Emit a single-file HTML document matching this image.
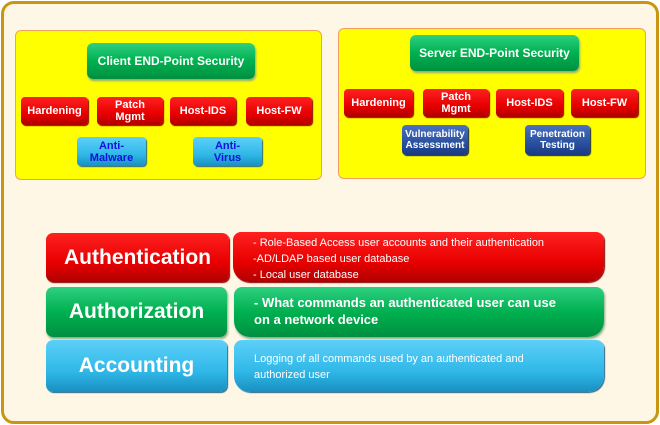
<!DOCTYPE html>
<html><head><meta charset="utf-8"><style>
*{margin:0;padding:0;box-sizing:border-box}
body{width:660px;height:425px;background:#fff;position:relative;overflow:hidden;font-family:"Liberation Sans",sans-serif}
.outer{position:absolute;left:1px;top:1px;width:658px;height:423px;border:3px solid #c8960f;border-radius:13px;background:#fef7e6}
.panel{position:absolute;background:#ffff00;border:1px solid #f0a060;border-radius:6px}
.b{position:absolute;display:flex;align-items:center;justify-content:center;text-align:center;font-weight:bold;border-radius:4px;line-height:12px;font-size:11px}
.red{background:linear-gradient(#ff2020,#e80000 60%,#b00000);color:#fff;box-shadow:1px 1px 1px #800}
.grn{background:linear-gradient(#2ed080,#00b050 50%,#009040);color:#fff;border-radius:6px;box-shadow:1px 2px 2px #8a8}
.blu{background:linear-gradient(#5cd0f8,#30b8e8 60%,#1890c0);color:#1010e0;box-shadow:1px 1px 1px #268}
.dk{background:linear-gradient(#4a70c0,#2a50a0 60%,#1a3a80);color:#fff;font-size:10px;line-height:11px;box-shadow:1px 1px 1px #124}
.big{position:absolute;display:flex;align-items:center;justify-content:center;color:#fff;font-weight:bold;font-size:21px;border-radius:7px}
.txt{position:absolute;color:#fff;border-radius:8px 8px 16px 16px;padding-left:20px;font-size:11px}
</style></head><body>
<div class="outer"></div>
<div class="panel" style="left:15px;top:30px;width:307px;height:150px"></div>
<div class="panel" style="left:338px;top:28px;width:308px;height:151px"></div>

<div class="b grn" style="left:87px;top:43px;width:168px;height:36px;font-size:12px">Client END-Point Security</div>
<div class="b red" style="left:21px;top:97px;width:67px;height:28px">Hardening</div>
<div class="b red" style="left:97px;top:97px;width:66px;height:28px">Patch<br>Mgmt</div>
<div class="b red" style="left:170px;top:97px;width:66px;height:28px">Host-IDS</div>
<div class="b red" style="left:246px;top:97px;width:66px;height:28px">Host-FW</div>
<div class="b blu" style="left:77px;top:137px;width:69px;height:29px">Anti-<br>Malware</div>
<div class="b blu" style="left:193px;top:137px;width:69px;height:29px">Anti-<br>Virus</div>

<div class="b grn" style="left:410px;top:35px;width:169px;height:36px;font-size:12px">Server END-Point Security</div>
<div class="b red" style="left:344px;top:89px;width:69px;height:28px">Hardening</div>
<div class="b red" style="left:423px;top:89px;width:66px;height:28px">Patch<br>Mgmt</div>
<div class="b red" style="left:496px;top:89px;width:67px;height:28px">Host-IDS</div>
<div class="b red" style="left:571px;top:89px;width:67px;height:28px">Host-FW</div>
<div class="b dk" style="left:402px;top:125px;width:66px;height:30px">Vulnerability<br>Assessment</div>
<div class="b dk" style="left:525px;top:125px;width:65px;height:30px">Penetration<br>Testing</div>

<div class="big red" style="left:46px;top:233px;width:183px;height:49px">Authentication</div>
<div class="txt red" style="left:233px;top:232px;width:371px;height:50px;padding-top:3px;line-height:16px;font-size:11px">- Role-Based Access user accounts and their authentication<br>-AD/LDAP based user database<br>- Local user database</div>
<div class="big grn" style="left:46px;top:287px;width:181px;height:50px;font-size:21px">Authorization</div>
<div class="txt grn" style="left:234px;top:287px;width:370px;height:50px;padding-top:7px;line-height:17px;font-size:13px;font-weight:bold">- What commands an authenticated user can use<br>on a network device</div>
<div class="big blu" style="left:46px;top:340px;width:181px;height:52px;color:#fff">Accounting</div>
<div class="txt blu" style="left:234px;top:340px;width:370px;height:52px;padding-top:11px;line-height:16px;color:#fff">Logging of all commands used by an authenticated and<br>authorized user</div>
</body></html>
